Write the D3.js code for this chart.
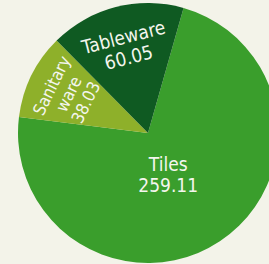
<!DOCTYPE html>
<html>
<head>
<meta charset="utf-8">
<script src="https://cdn.jsdelivr.net/npm/d3@7"></script>
<style>
  html, body { margin: 0; padding: 0; background: #f3f3e9; }
  #chart { width: 269px; height: 264px; }
</style>
</head>
<body>
<div id="chart"></div>
<script>
// data
const categories = ["Tiles", "Sanitary ware", "Tableware"];
const values = [259.11, 38.03, 60.05];
const colors = ["#3a9e2c", "#8eb02a", "#0f5a22"];
// label lines per slice (the small slices wrap)
const labelLines = [["Tiles"], ["Sanitary", "ware"], ["Tableware"]];

const width = 269, height = 264;
const cx = 148, cy = 133, radius = 130;

const svg = d3.select("#chart").append("svg")
    .attr("width", width)
    .attr("height", height)
    .style("display", "block");

const rows = categories.map((c, i) => ({ name: c, value: values[i], lines: labelLines[i], color: colors[i] }));

const start = 0.277; // Tiles begins just right of 12 o'clock
const pie = d3.pie().sort(null).value(d => d.value)
    .startAngle(start).endAngle(start + 2 * Math.PI);
const arc = d3.arc().innerRadius(0).outerRadius(radius);

const g = svg.append("g").attr("transform", `translate(${cx},${cy})`);
const arcs = pie(rows);

g.selectAll("path")
    .data(arcs)
    .enter().append("path")
    .attr("d", arc)
    .attr("fill", d => d.data.color);

// labels: big slice sits near the middle, small ones along their slice, rotated with it
const labels = g.selectAll("g.lbl")
    .data(arcs)
    .enter().append("g")
    .attr("class", "lbl")
    .attr("transform", (d, i) => {
        let mid = (d.startAngle + d.endAngle) / 2;
        if (i === 0) mid += 0.14;
        const r = i === 0 ? radius * 0.36 : radius * 0.68;
        const x = Math.sin(mid) * r, y = -Math.cos(mid) * r;
        let rot = 0;
        if (i !== 0) {
            rot = mid * 180 / Math.PI;
            while (rot > 180) rot -= 360;
        }
        return `translate(${x},${y}) rotate(${rot})`;
    });

labels.each(function(d, i) {
    const lines = d.data.lines.concat([d3.format(".2f")(d.data.value)]);
    const fs = i === 1 ? 17 : 19;
    const lh = i === 1 ? 19 : 21;
    const t = d3.select(this).append("text")
        .attr("text-anchor", "middle")
        .attr("fill", "#f4f6ee")
        .style("font-family", "'DejaVu Sans Condensed', 'DejaVu Sans', sans-serif")
        .style("font-size", fs + "px");
    lines.forEach((s, k) => {
        t.append("tspan")
            .attr("x", 0)
            .attr("y", (k - (lines.length - 1) / 2) * lh)
            .attr("dy", "0.35em")
            .text(s);
    });
});
</script>
</body>
</html>
